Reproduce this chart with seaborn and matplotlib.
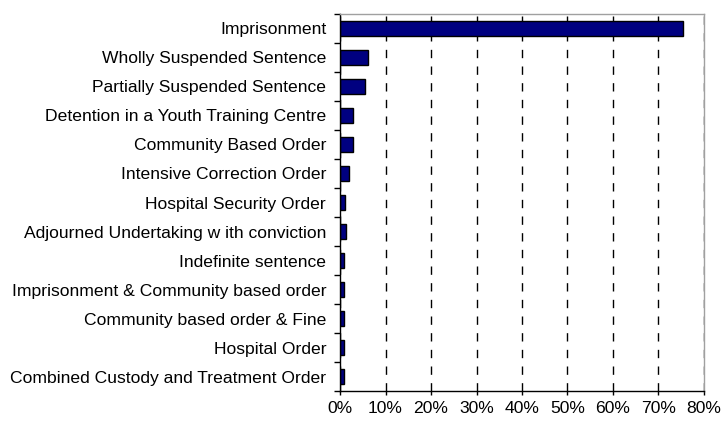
import seaborn as sns
import matplotlib.pyplot as plt
import pandas as pd
from matplotlib.ticker import PercentFormatter

# Sentence types and share of sentences (%)
sentences = [
    'Imprisonment',
    'Wholly Suspended Sentence',
    'Partially Suspended Sentence',
    'Detention in a Youth Training Centre',
    'Community Based Order',
    'Intensive Correction Order',
    'Hospital Security Order',
    'Adjourned Undertaking w ith conviction',
    'Indefinite sentence',
    'Imprisonment & Community based order',
    'Community based order & Fine',
    'Hospital Order',
    'Combined Custody and Treatment Order',
]
share = [75.4, 6.2, 5.5, 2.9, 2.9, 1.9, 1.1, 1.2, 0.8, 0.8, 0.8, 0.8, 0.8]

df = pd.DataFrame({'sentence': sentences, 'share': share})

sns.set_style('white')
plt.rcParams['font.family'] = ['Liberation Sans', 'DejaVu Sans']

fig = plt.figure(figsize=(7.22, 4.21), dpi=100)
ax = fig.add_axes([0.471, 0.071, 0.504, 0.896])

sns.barplot(data=df, x='share', y='sentence', color='#000080', width=0.5,
            edgecolor='black', linewidth=1, saturation=1, ax=ax)

ax.set_xlim(0, 80)
ax.set_ylim(len(sentences) - 0.5, -0.5)
ax.set_xticks(range(0, 90, 10))
ax.xaxis.set_major_formatter(PercentFormatter(decimals=0))
ax.xaxis.grid(True, linestyle=(0, (6, 6)), color='black', linewidth=1)
ax.set_axisbelow(True)
ax.set_xlabel('')
ax.set_ylabel('')

# category boundary ticks on the y axis
ax.set_yticks([i + 0.5 for i in range(-1, len(sentences))], minor=True)
ax.tick_params(axis='y', which='major', length=0, labelsize=12.6, pad=10, labelcolor='black')
ax.tick_params(axis='y', which='minor', length=4, width=1, color='black', left=True)
ax.tick_params(axis='x', length=3, width=1, color='black', labelsize=12.6, pad=4,
               bottom=True, labelcolor='black')

for side in ['left', 'bottom']:
    ax.spines[side].set_color('black')
    ax.spines[side].set_linewidth(1)
for side in ['top', 'right']:
    ax.spines[side].set_color('#a0a0a0')
    ax.spines[side].set_linewidth(1)

fig.savefig('out.png', dpi=100)
